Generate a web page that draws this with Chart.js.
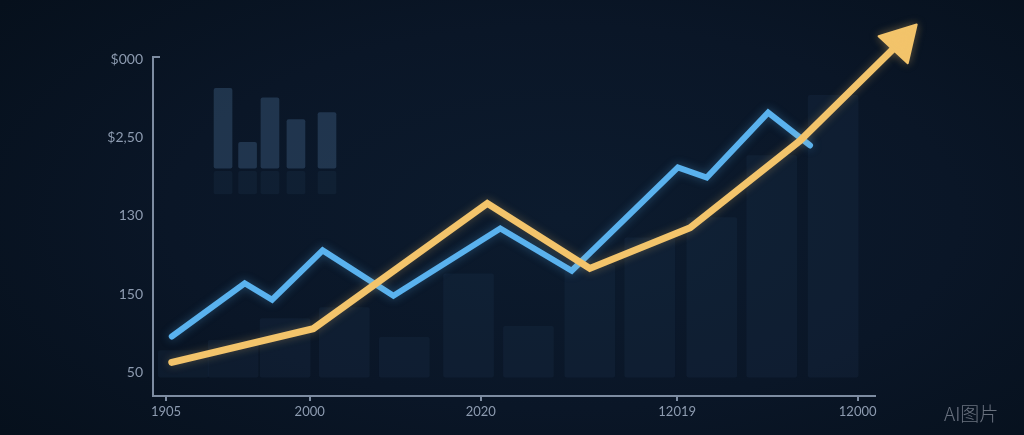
<!DOCTYPE html>
<html><head><meta charset="utf-8">
<script src="https://cdn.jsdelivr.net/npm/chart.js@4/dist/chart.umd.min.js"></script>
<style>
html,body{margin:0;padding:0;width:1024px;height:435px;overflow:hidden;}
body{background:radial-gradient(ellipse 70% 80% at 55% 50%, #0c1b2e 0%, #0a1627 55%, #06101c 100%);position:relative;}
canvas{display:block;}
#wm{position:absolute;left:944px;top:399px;font-family:"Noto Sans CJK SC";font-size:19px;color:rgba(185,192,204,0.55);font-weight:300;}
</style></head><body>
<canvas id="c" width="1024" height="435"></canvas>
<div id="wm">AI图片</div>
<script>
// Tick positions and labels
const xTickValues = [1.8, 21.7, 45.4, 72.6, 97.6];
const xTickLabels = ["1905", "2000", "2020", "12019", "12000"];
const yTickValues = [0, 1, 2, 3, 4];
const yTickLabels = ["50", "150", "130", "$2,50", "$000"];

// Blue series
const blueX = [2.6, 12.7, 16.5, 23.5, 33.3, 48.1, 58.0, 72.7, 76.7, 85.2, 91.0];
const blueY = [0.46, 1.14, 0.93, 1.56, 0.98, 1.84, 1.30, 2.62, 2.49, 3.32, 2.90];

// Yellow series (ends in arrow)
const yellowX = [2.6, 22.2, 46.3, 60.5, 74.4, 89.6, 103.6];
const yellowY = [0.13, 0.56, 2.16, 1.33, 1.85, 2.96, 4.23];

// Upper-left small bars
const topBarX = [9.7, 13.1, 16.2, 19.8, 24.1];
const topBarLow = [2.61, 2.61, 2.61, 2.61, 2.61];
const topBarHigh = [3.63, 2.94, 3.51, 3.23, 3.32];
const reflLow = [2.28, 2.28, 2.28, 2.28, 2.28];
const reflHigh = [2.57, 2.57, 2.57, 2.57, 2.57];

// Faint background bars
const bgBarX = [4.2, 11.1, 18.3, 26.5, 34.8, 43.7, 52.0, 60.5, 68.8, 77.4, 85.7, 94.2];
const bgBarLow = [-0.06, -0.06, -0.06, -0.06, -0.06, -0.06, -0.06, -0.06, -0.06, -0.06, -0.06, -0.06];
const bgBarHigh = [0.28, 0.41, 0.69, 0.83, 0.45, 1.26, 0.59, 1.37, 1.72, 1.98, 2.77, 3.54];

const pts = (xs, ys) => xs.map((x, i) => ({x: x, y: ys[i]}));
const rng = (xs, lo, hi) => xs.map((x, i) => ({x: x, y: [lo[i], hi[i]]}));

const AXIS = '#7d8ca1';
const LABEL = '#8d9bb0';
const YELLOW = '#f3c46b';
const BLUE = '#5ab2ee';

const glow = {
  id: 'glow',
  beforeDatasetDraw(chart, args) {
    const ds = chart.data.datasets[args.index];
    if (ds.glowColor) {
      chart.ctx.save();
      chart.ctx.shadowColor = ds.glowColor;
      chart.ctx.shadowBlur = 10;
    }
  },
  afterDatasetDraw(chart, args) {
    const ds = chart.data.datasets[args.index];
    if (ds.glowColor) chart.ctx.restore();
  }
};
// arrow head at the last point of the yellow series, placed through the scales
const arrow = {
  id: 'arrow',
  afterDatasetsDraw(chart) {
    const meta = chart.getDatasetMeta(0);
    const el = meta.data[meta.data.length - 1];
    const ctx = chart.ctx;
    ctx.save();
    ctx.shadowColor = 'rgba(243,196,107,0.35)';
    ctx.shadowBlur = 10;
    ctx.fillStyle = YELLOW;
    ctx.strokeStyle = YELLOW;
    ctx.lineWidth = 2;
    ctx.lineJoin = 'round';
    Chart.helpers.drawPoint(ctx, {pointStyle: 'triangle', rotation: 43, radius: 23, borderWidth: 2}, el.x, el.y);
    ctx.restore();
  }
};
const hook = {
  id: 'hook',
  afterDraw(chart) {
    const {ctx, chartArea} = chart;
    ctx.save();
    ctx.strokeStyle = AXIS;
    ctx.lineWidth = 2;
    ctx.beginPath();
    ctx.moveTo(chartArea.left - 1, chartArea.top);
    ctx.lineTo(chartArea.left + 7, chartArea.top);
    ctx.stroke();
    ctx.restore();
  }
};

new Chart(document.getElementById('c'), {
  type: 'line',
  data: {
    datasets: [
      {
        type: 'line', data: pts(yellowX, yellowY), borderColor: YELLOW, borderWidth: 7,
        borderCapStyle: 'round', borderJoinStyle: 'miter', tension: 0,
        pointRadius: 0, clip: false, order: 1, glowColor: 'rgba(243,196,107,0.3)'
      },
      {
        type: 'line', data: pts(blueX, blueY), borderColor: BLUE, borderWidth: 6,
        borderCapStyle: 'round', borderJoinStyle: 'miter', tension: 0,
        pointRadius: 0, clip: false, order: 2, glowColor: 'rgba(90,178,238,0.35)'
      },
      {
        type: 'bar', data: rng(topBarX, topBarLow, topBarHigh), barThickness: 18,
        backgroundColor: 'rgba(60,92,124,0.45)', borderRadius: 2, borderSkipped: false,
        grouped: false, order: 5
      },
      {
        type: 'bar', data: rng(topBarX, reflLow, reflHigh), barThickness: 18,
        backgroundColor: 'rgba(60,92,124,0.12)', borderRadius: 2, borderSkipped: false,
        grouped: false, order: 6
      },
      {
        type: 'bar', data: rng(bgBarX, bgBarLow, bgBarHigh), barThickness: 50,
        backgroundColor: 'rgba(34,60,92,0.2)', borderRadius: 2, borderSkipped: false,
        grouped: false, order: 7
      }
    ]
  },
  options: {
    responsive: false,
    animation: false,
    events: [],
    layout: {padding: {left: 0, top: 57, right: 149, bottom: 0}},
    plugins: {legend: {display: false}, tooltip: {enabled: false}},
    scales: {
      x: {
        type: 'linear', min: 0, max: 100, offset: false,
        afterBuildTicks: s => { s.ticks = xTickValues.map(v => ({value: v})); },
        afterFit: s => { s.height = 39; },
        ticks: {
          autoSkip: false, maxRotation: 0, padding: 3, color: LABEL,
          font: {family: 'Lato', size: 13},
          callback: (v, i) => xTickLabels[i]
        },
        grid: {display: true, drawOnChartArea: false, drawTicks: true, tickLength: 5, color: AXIS, lineWidth: 2, offset: false},
        border: {display: true, color: AXIS, width: 2}
      },
      y: {
        type: 'linear', min: -0.3, max: 4.03,
        afterBuildTicks: s => { s.ticks = yTickValues.map(v => ({value: v})); },
        afterFit: s => { s.width = 153; },
        ticks: {
          padding: 10, color: LABEL, font: {family: 'Lato', size: 14},
          callback: (v, i) => yTickLabels[i]
        },
        grid: {display: true, drawOnChartArea: false, drawTicks: false, color: 'rgba(0,0,0,0)'},
        border: {display: true, color: AXIS, width: 2}
      }
    }
  },
  plugins: [glow, arrow, hook]
});
</script>
</body></html>
